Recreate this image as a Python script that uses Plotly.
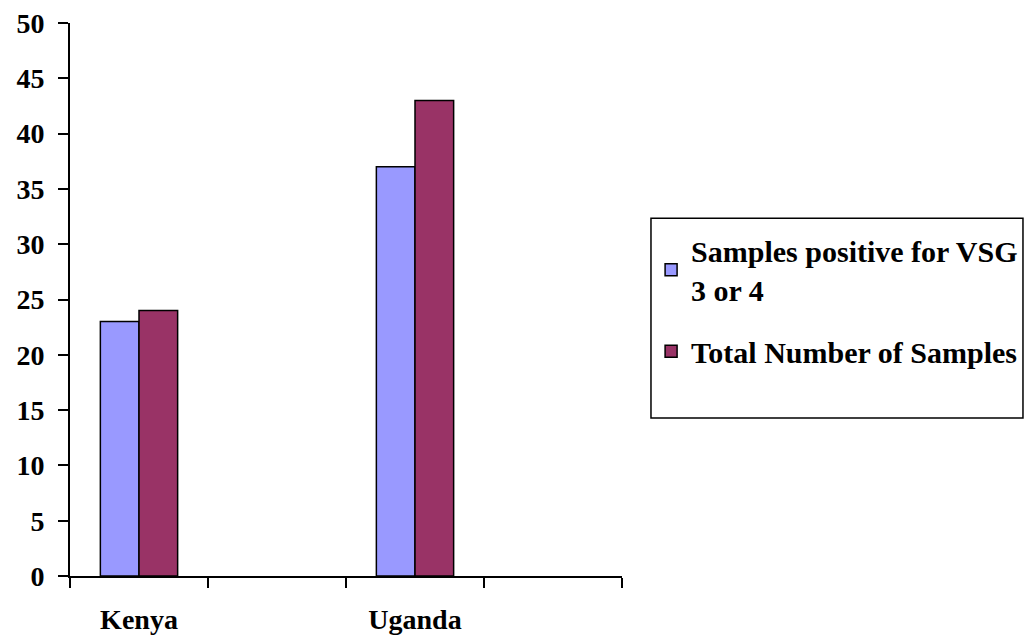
import plotly.graph_objects as go

categories = ["Kenya", " ", "Uganda", "  "]
positive_vsg = [23, None, 37, None]
total_samples = [24, None, 43, None]
series_names = ["Samples positive for VSG<br>3 or 4", "Total Number of Samples"]
colors = ["#9999FF", "#993366"]

FONT = "Liberation Serif"

fig = go.Figure()
for i, (name, vals, col) in enumerate(zip(series_names, [positive_vsg, total_samples], colors)):
    fig.add_trace(go.Bar(
        x=categories, y=vals, name=name, legendgroup=f"g{i}",
        marker=dict(color=col, line=dict(color="black", width=1.5)),
    ))

fig.update_layout(
    width=1025, height=631,
    margin=dict(l=62, r=411, t=15, b=63, autoexpand=False),
    paper_bgcolor="white", plot_bgcolor="white",
    barmode="group", bargap=0.44, bargroupgap=0,
    font=dict(family=FONT, size=28, color="black", weight="bold"),
    showlegend=True,
    legend=dict(
        x=1.0527, xanchor="left", y=0.636, yanchor="top",
        font=dict(family=FONT, size=30, color="black", weight="bold"),
        bgcolor="rgba(0,0,0,0)", borderwidth=0,
        tracegroupgap=20, traceorder="grouped",
    ),
    shapes=[dict(type="rect", xref="paper", yref="paper",
                 x0=1.0525, x1=1.7264, y0=0.2857, y1=0.6469,
                 line=dict(color="black", width=1.5))],
)
fig.update_xaxes(
    type="category", categoryorder="array", categoryarray=categories,
    showline=True, linecolor="black", linewidth=2,
    ticks="outside", ticklen=10, tickwidth=2, tickcolor="black",
    tickson="boundaries", showgrid=False, zeroline=False,
    tickfont=dict(family=FONT, size=28, color="black", weight="bold"),
    ticklabelstandoff=17, ticklabeloverflow="allow",
)
fig.update_yaxes(
    range=[0, 50], dtick=5, tick0=0,
    showline=True, linecolor="black", linewidth=2,
    ticks="outside", ticklen=10, tickwidth=2, tickcolor="black",
    showgrid=False, zeroline=False,
    tickfont=dict(family=FONT, size=28, color="black", weight="bold"),
    ticklabelstandoff=8, ticklabeloverflow="allow",
)
fig.write_html("out.html")
